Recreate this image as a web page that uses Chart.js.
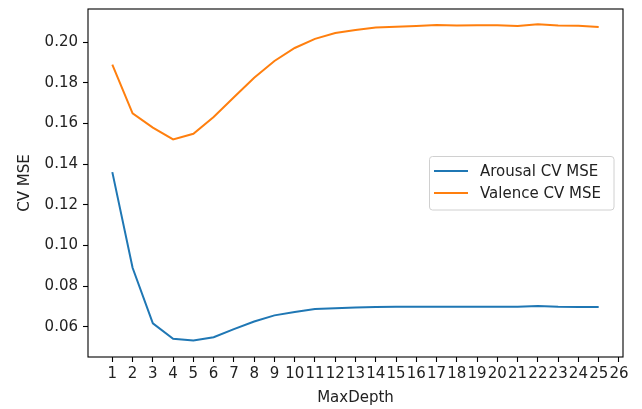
<!DOCTYPE html>
<html>
<head>
<meta charset="utf-8">
<script src="https://cdn.jsdelivr.net/npm/chart.js@4/dist/chart.umd.min.js"></script>
<style>
  html, body { margin: 0; padding: 0; background: #fff; }
  #wrap { width: 642px; height: 409px; position: relative; }
</style>
</head>
<body>
<div id="wrap"><canvas id="c" width="642" height="409"></canvas></div>
<script>
// Cross-validated MSE against tree max depth
const maxDepth = [1,2,3,4,5,6,7,8,9,10,11,12,13,14,15,16,17,18,19,20,21,22,23,24,25];
const arousalMSE = [0.1361, 0.0890, 0.0617, 0.0541, 0.0532, 0.0548, 0.0588, 0.0626, 0.0656, 0.0673,
                    0.0687, 0.0691, 0.0695, 0.0697, 0.0698, 0.0698, 0.0698, 0.0698, 0.0698, 0.0698,
                    0.0698, 0.0702, 0.0698, 0.0697, 0.0697];
const valenceMSE = [0.1890, 0.1650, 0.1580, 0.1522, 0.1550, 0.1632, 0.1730, 0.1826, 0.1908, 0.1972,
                    0.2017, 0.2046, 0.2061, 0.2073, 0.2077, 0.2080, 0.2085, 0.2083, 0.2084, 0.2084,
                    0.2080, 0.2089, 0.2083, 0.2081, 0.2076];
const xTicks = [1,2,3,4,5,6,7,8,9,10,11,12,13,14,15,16,17,18,19,20,21,22,23,24,25,26];
const yTicks = [0.06, 0.08, 0.10, 0.12, 0.14, 0.16, 0.18, 0.20];
const seriesNames = ['Arousal CV MSE', 'Valence CV MSE'];
const seriesColors = ['#1f77b4', '#ff7f0e'];

const FONT = 'DejaVu Sans';
const FS = 15;

// Frame around the plotting area and an in-plot legend
const framePlugin = {
  id: 'frame',
  afterDraw(chart) {
    const { ctx, chartArea: a } = chart;
    ctx.save();
    ctx.strokeStyle = '#000';
    ctx.lineWidth = 1.1;
    ctx.strokeRect(a.left, a.top, a.right - a.left, a.bottom - a.top);

    // legend box
    const bx = 429.5, by = 156.5, bw = 184.5, bh = 53.5, r = 3;
    ctx.beginPath();
    ctx.moveTo(bx + r, by);
    ctx.arcTo(bx + bw, by, bx + bw, by + bh, r);
    ctx.arcTo(bx + bw, by + bh, bx, by + bh, r);
    ctx.arcTo(bx, by + bh, bx, by, r);
    ctx.arcTo(bx, by, bx + bw, by, r);
    ctx.closePath();
    ctx.fillStyle = 'rgba(255,255,255,0.8)';
    ctx.fill();
    ctx.strokeStyle = '#d0d0d0';
    ctx.lineWidth = 1;
    ctx.stroke();

    ctx.font = FS + 'px "' + FONT + '"';
    ctx.textBaseline = 'middle';
    ctx.fillStyle = '#222';
    const rows = [171, 193];
    chart.data.datasets.forEach((ds, i) => {
      ctx.strokeStyle = ds.borderColor;
      ctx.lineWidth = 2;
      ctx.beginPath();
      ctx.moveTo(434, rows[i]);
      ctx.lineTo(468, rows[i]);
      ctx.stroke();
      ctx.fillText(ds.label, 480, rows[i] + 1);
    });
    ctx.restore();
  }
};

const toPoints = ys => maxDepth.map((x, i) => ({ x: x, y: ys[i] }));

new Chart(document.getElementById('c'), {
  type: 'line',
  data: {
    datasets: [
      { label: seriesNames[0], data: toPoints(arousalMSE), borderColor: seriesColors[0],
        borderWidth: 2, pointRadius: 0, tension: 0, fill: false },
      { label: seriesNames[1], data: toPoints(valenceMSE), borderColor: seriesColors[1],
        borderWidth: 2, pointRadius: 0, tension: 0, fill: false }
    ]
  },
  options: {
    responsive: false,
    animation: false,
    events: [],
    layout: { padding: { left: 0, top: 9, right: 19, bottom: 0 } },
    plugins: { legend: { display: false }, tooltip: { enabled: false } },
    scales: {
      x: {
        type: 'linear',
        min: -0.2,
        max: 26.2,
        afterFit(s) { s.height = 52; s.paddingLeft = 0; s.paddingRight = 0; },
        afterBuildTicks(s) { s.ticks = xTicks.map(v => ({ value: v })); },
        grid: { display: true, drawOnChartArea: false, drawTicks: true, tickLength: 5,
                color: '#000', tickColor: '#000', tickWidth: 1.1 },
        border: { display: false },
        ticks: { color: '#222', font: { family: FONT, size: FS }, padding: 3,
                 maxRotation: 0, autoSkip: false, callback: v => String(v) },
        title: { display: true, text: 'MaxDepth', color: '#222',
                 font: { family: FONT, size: FS }, padding: { top: 0, bottom: 2 } }
      },
      y: {
        type: 'linear',
        min: 0.0451,
        max: 0.2164,
        afterFit(s) { s.width = 88; s.paddingTop = 0; s.paddingBottom = 0; },
        afterBuildTicks(s) { s.ticks = yTicks.map(v => ({ value: v })); },
        grid: { display: true, drawOnChartArea: false, drawTicks: true, tickLength: 5,
                color: '#000', tickColor: '#000', tickWidth: 1.1 },
        border: { display: false },
        ticks: { color: '#222', font: { family: FONT, size: FS }, padding: 5,
                 callback: v => v.toFixed(2) },
        title: { display: true, text: 'CV MSE', color: '#222',
                 font: { family: FONT, size: FS }, padding: { top: 16, bottom: 0 } }
      }
    }
  },
  plugins: [framePlugin]
});
</script>
</body>
</html>
